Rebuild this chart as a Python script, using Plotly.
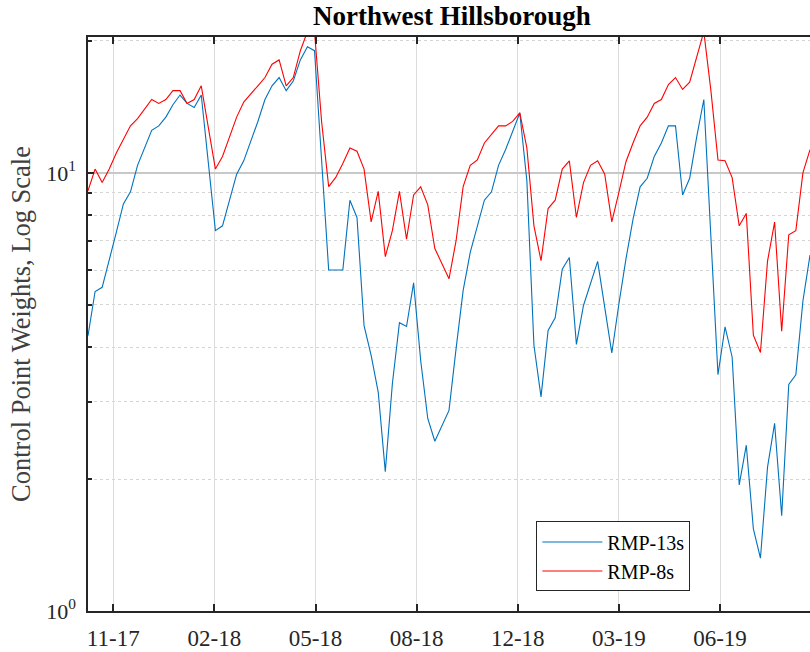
import pandas as pd
import plotly.graph_objects as go

# Weekly control point weights for the Northwest Hillsborough region
start_date = "2017-10-08"

rmp_13s = [
    4.25, 5.36, 5.48, 6.3, 7.31, 8.49, 9.05, 10.4, 11.4, 12.5,
    12.8, 13.4, 14.3, 15.05, 14.4, 14.1, 15.05, 10.5, 7.38, 7.57,
    8.64, 9.93, 10.65, 11.8, 13.1, 14.7, 15.8, 16.5, 15.4, 16.2,
    18.1, 19.4, 19.0, 10.7, 6.0, 6.0, 6.0, 8.66, 7.91, 4.48,
    3.83, 3.16, 2.08, 3.30, 4.55, 4.46, 5.61, 3.73, 2.75, 2.44,
    2.65, 2.87, 3.97, 5.39, 6.58, 7.57, 8.66, 9.05, 10.4, 11.3,
    12.5, 13.7, 9.59, 4.04, 3.08, 4.37, 4.67, 6.03, 6.41, 4.06,
    4.98, 5.63, 6.28, 4.93, 3.88, 5.02, 6.36, 7.84, 9.29, 9.72,
    10.9, 11.7, 12.8, 12.8, 8.9, 9.72, 12.1, 14.7, 7.14, 3.46,
    4.45, 3.80, 1.94, 2.39, 1.54, 1.32, 2.13, 2.68, 1.65, 3.29,
    3.46, 5.1, 6.49,
]

rmp_8s = [
    9.1, 10.2, 9.5, 10.2, 11.1, 11.9, 12.8, 13.3, 14.0, 14.7,
    14.4, 14.7, 15.4, 15.4, 14.4, 14.7, 15.8, 12.7, 10.2, 10.9,
    12.1, 13.4, 14.5, 15.1, 15.8, 16.5, 17.7, 18.1, 15.8, 16.5,
    19.0, 21.0, 21.0, 13.1, 9.3, 9.76, 10.5, 11.4, 11.2, 10.2,
    7.73, 9.07, 6.44, 7.38, 9.07, 7.06, 8.9, 9.29, 8.45, 6.72,
    6.19, 5.73, 7.0, 9.3, 10.4, 10.7, 11.7, 12.25, 12.8, 12.8,
    13.1, 13.7, 11.4, 7.57, 6.3, 8.29, 8.66, 10.2, 10.65, 7.91,
    9.5, 10.4, 10.65, 9.93, 7.73, 9.02, 10.6, 11.7, 12.8, 13.4,
    14.4, 14.7, 15.9, 16.5, 15.5, 16.1, 18.4, 21.0, 15.4, 10.7,
    10.66, 9.75, 7.57, 8.08, 4.26, 3.89, 6.29, 7.72, 4.35, 7.22,
    7.38, 10.0, 11.3,
]

dates = pd.date_range(start_date, periods=len(rmp_13s), freq="7D")

tick_dates = ["2017-11-02", "2018-02-10", "2018-05-21", "2018-08-29",
              "2018-12-07", "2019-03-17", "2019-06-25"]
tick_labels = ["11-17", "02-18", "05-18", "08-18", "12-18", "03-19", "06-19"]

y_ticks = [1, 10]
y_tick_labels = ["10<sup>0</sup>", "10<sup>1</sup>"]
y_minor_ticks = [2, 3, 4, 5, 6, 7, 8, 9, 20]

FONT = "Liberation Serif, Times New Roman, serif"
AXIS = "#262626"

fig = go.Figure()
fig.add_trace(go.Scatter(x=dates, y=rmp_13s, mode="lines", name="RMP-13s",
                         line=dict(color="#0072BD", width=1.1)))
fig.add_trace(go.Scatter(x=dates, y=rmp_8s, mode="lines", name="RMP-8s",
                         line=dict(color="#FF0000", width=1.1)))

fig.update_layout(
    width=810, height=652,
    margin=dict(l=88, r=0, t=37, b=41),
    paper_bgcolor="white", plot_bgcolor="white",
    font=dict(family=FONT, color=AXIS),
    title=dict(text="<b>Northwest Hillsborough</b>",
               font=dict(family=FONT, size=27, color="black"),
               x=0.504, xref="paper", xanchor="center",
               y=1 - 16 / 652, yref="container", yanchor="middle"),
    showlegend=True,
    legend=dict(x=0.621, y=0.156, xanchor="left", yanchor="top",
                bgcolor="white", bordercolor=AXIS, borderwidth=1,
                font=dict(family=FONT, size=20, color="black"),
                tracegroupgap=0, itemwidth=60),
)

fig.update_xaxes(
    type="date",
    range=[dates[0], dates[-1]],
    tickmode="array", tickvals=tick_dates, ticktext=tick_labels,
    ticks="inside", ticklen=7, tickwidth=1.5, tickcolor=AXIS,
    tickfont=dict(family=FONT, size=23, color=AXIS),
    ticklabelstandoff=6,
    showline=True, linecolor=AXIS, linewidth=1.5, mirror="ticks",
    showgrid=True, gridcolor="#dcdcdc", gridwidth=1,
    zeroline=False,
)

fig.update_yaxes(
    type="log",
    range=[0, 1.31],
    tickmode="array", tickvals=y_ticks, ticktext=y_tick_labels,
    ticks="inside", ticklen=6, tickwidth=1.5, tickcolor=AXIS,
    tickfont=dict(family=FONT, size=22, color=AXIS),
    ticklabelstandoff=6,
    showline=True, linecolor=AXIS, linewidth=1.5, mirror=False,
    showgrid=True, gridcolor="#c8c8c8", gridwidth=1.5,
    minor=dict(tickmode="array", tickvals=y_minor_ticks,
               ticks="inside", ticklen=4, tickcolor=AXIS,
               showgrid=True, gridcolor="#d4d4d4", griddash="dot", gridwidth=1),
    title=dict(text="Control Point Weights, Log Scale",
               font=dict(family=FONT, size=26.5, color="#404040"),
               standoff=8),
    zeroline=False,
)

fig.write_html("out.html")
